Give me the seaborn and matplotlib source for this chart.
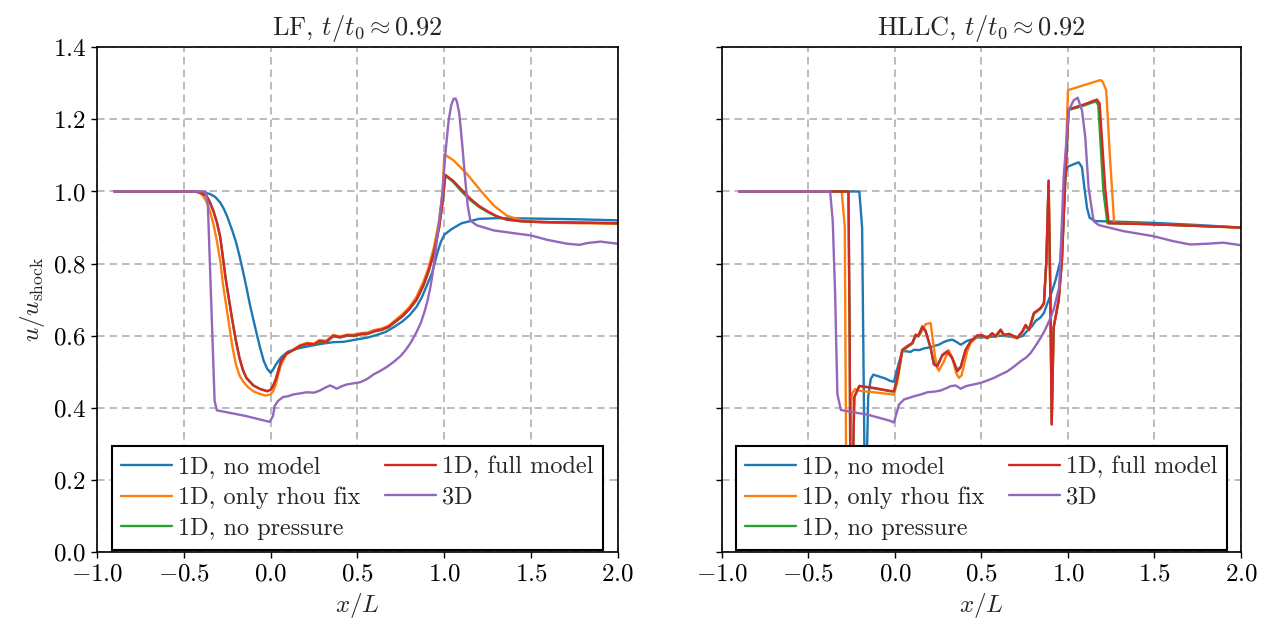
import numpy as np
import pandas as pd
import matplotlib
matplotlib.use("Agg")
import matplotlib.pyplot as plt
import seaborn as sns

# ---------------- data ----------------
series_names = ["1D, no model", "1D, only rhou fix", "1D, no pressure", "1D, full model", "3D"]
titles = [r"LF, $t/t_0 \approx 0.92$", r"HLLC, $t/t_0 \approx 0.92$"]
xticks = [-1.0, -0.5, 0.0, 0.5, 1.0, 1.5, 2.0]
yticks = [0.0, 0.2, 0.4, 0.6, 0.8, 1.0, 1.2, 1.4]

# LF panel
lf_nomodel_x = [-0.9, -0.43, -0.39, -0.35, -0.32, -0.29, -0.27, -0.25, -0.22, -0.2, -0.18, -0.16, -0.14,
                -0.12, -0.1, -0.08, -0.06, -0.04, -0.02, 0.0, 0.015, 0.03, 0.06, 0.1,
                0.16, 0.23, 0.3, 0.36, 0.42, 0.5, 0.56, 0.61, 0.66, 0.71, 0.76, 0.8, 0.84, 0.87, 0.9, 0.93,
                0.96, 0.98, 1.0, 1.04, 1.1, 1.2, 1.3, 1.5, 1.75, 2.0]
lf_nomodel_u = [1.0, 1.0, 0.998, 0.993, 0.985, 0.969, 0.952, 0.93, 0.89, 0.86, 0.822, 0.78, 0.735,
                0.687, 0.645, 0.604, 0.565, 0.53, 0.508, 0.497, 0.507, 0.52, 0.54, 0.556,
                0.565, 0.572, 0.578, 0.582, 0.583, 0.59, 0.595, 0.602, 0.61, 0.624, 0.64, 0.657, 0.68, 0.706,
                0.74, 0.775, 0.83, 0.86, 0.88, 0.895, 0.912, 0.924, 0.926, 0.925, 0.923, 0.92]

lf_rhou_x = [-0.9, -0.44, -0.41, -0.39, -0.37, -0.35, -0.33, -0.31, -0.29, -0.275, -0.255, -0.237, -0.22,
             -0.2, -0.18, -0.16, -0.13, -0.1, -0.06, -0.03, 0.0, 0.015, 0.03, 0.045, 0.06,
             0.09, 0.13, 0.17, 0.21, 0.25, 0.28, 0.32, 0.36, 0.4, 0.44, 0.48, 0.52, 0.56, 0.6, 0.64, 0.68,
             0.72, 0.76, 0.8, 0.84, 0.88, 0.91, 0.94, 0.97, 0.99, 1.0, 1.054, 1.13, 1.208, 1.285, 1.36,
             1.458, 1.55, 2.0]
lf_rhou_u = [1.0, 1.0, 0.996, 0.988, 0.972, 0.946, 0.91, 0.863, 0.805, 0.743, 0.68, 0.622, 0.568,
             0.52, 0.49, 0.474, 0.457, 0.446, 0.438, 0.434, 0.437, 0.447, 0.465, 0.495, 0.52,
             0.548, 0.562, 0.574, 0.58, 0.578, 0.588, 0.586, 0.602, 0.598, 0.603, 0.603, 0.607, 0.609, 0.616,
             0.62, 0.628, 0.644, 0.66, 0.68, 0.708, 0.75, 0.79, 0.845, 0.92, 1.0, 1.103, 1.086, 1.049,
             1.003, 0.961, 0.933, 0.918, 0.914, 0.91]

lf_nopres_x = [-0.9, -0.43, -0.4, -0.37, -0.35, -0.33, -0.31, -0.29, -0.26, -0.24, -0.22, -0.2, -0.18,
               -0.16, -0.14, -0.1, -0.06, -0.02, 0.0, 0.015, 0.03, 0.045,
               0.06, 0.09, 0.13, 0.17, 0.21, 0.25, 0.28, 0.32, 0.36, 0.4, 0.44, 0.48, 0.52, 0.56, 0.6, 0.64,
               0.68, 0.72, 0.76, 0.8, 0.84, 0.88, 0.91, 0.94, 0.97, 0.99, 1.006, 1.05, 1.1, 1.15, 1.2,
               1.25, 1.3, 1.36, 1.45, 1.6, 2.0]
lf_nopres_u = [1.0, 1.0, 0.996, 0.988, 0.97, 0.946, 0.915, 0.872, 0.761, 0.7, 0.64, 0.585, 0.539,
               0.505, 0.483, 0.462, 0.452, 0.446, 0.45, 0.462, 0.48, 0.505,
               0.53, 0.55, 0.56, 0.571, 0.577, 0.575, 0.583, 0.582, 0.598, 0.595, 0.6, 0.599, 0.604, 0.605,
               0.612, 0.616, 0.624, 0.639, 0.654, 0.674, 0.699, 0.739, 0.779, 0.829, 0.9, 0.97, 1.044, 1.027,
               1.0, 0.976, 0.957, 0.943, 0.931, 0.922, 0.917, 0.915, 0.912]

lf_full_x = [-0.9, -0.43, -0.4, -0.37, -0.35, -0.33, -0.31, -0.29, -0.26, -0.24, -0.22, -0.2, -0.18,
             -0.16, -0.14, -0.1, -0.06, -0.02, 0.0, 0.015, 0.03, 0.045,
             0.06, 0.09, 0.13, 0.17, 0.21, 0.25, 0.28, 0.32, 0.36, 0.4, 0.44, 0.48, 0.52, 0.56, 0.6, 0.64,
             0.68, 0.72, 0.76, 0.8, 0.84, 0.88, 0.91, 0.94, 0.97, 0.99, 1.006, 1.05, 1.1, 1.15, 1.2,
             1.25, 1.3, 1.36, 1.45, 1.6, 2.0]
lf_full_u = [1.0, 1.0, 0.996, 0.988, 0.97, 0.946, 0.915, 0.872, 0.761, 0.7, 0.64, 0.585, 0.539,
             0.505, 0.483, 0.462, 0.452, 0.446, 0.45, 0.462, 0.48, 0.505,
             0.53, 0.55, 0.56, 0.572, 0.578, 0.576, 0.585, 0.583, 0.6, 0.596, 0.601, 0.6, 0.605, 0.606,
             0.613, 0.617, 0.625, 0.64, 0.655, 0.675, 0.7, 0.74, 0.78, 0.83, 0.9, 0.97, 1.046, 1.03,
             1.005, 0.98, 0.96, 0.945, 0.932, 0.922, 0.917, 0.915, 0.912]

lf_3d_x = [-0.9, -0.375, -0.362, -0.342, -0.323, -0.31, -0.15, -0.006, 0.013, 0.023, 0.042, 0.072, 0.1,
           0.13, 0.17, 0.207, 0.25, 0.284, 0.31, 0.342, 0.36, 0.381, 0.41, 0.44, 0.48, 0.516, 0.556, 0.594,
           0.63, 0.671, 0.71, 0.749, 0.78, 0.807, 0.84, 0.865, 0.885, 0.903, 0.92, 0.932, 0.952, 0.971,
           0.99, 1.006, 1.025, 1.04, 1.054, 1.065, 1.073, 1.085, 1.092, 1.105, 1.121, 1.135, 1.15, 1.188,
           1.285, 1.42, 1.5, 1.592, 1.708, 1.78, 1.823, 1.9, 2.0]
lf_3d_u = [1.0, 1.0, 0.965, 0.687, 0.419, 0.393, 0.378, 0.361, 0.377, 0.405, 0.419, 0.43, 0.432, 0.437,
           0.44, 0.443, 0.442, 0.448, 0.455, 0.462, 0.458, 0.453, 0.46, 0.465, 0.468, 0.471, 0.48, 0.493,
           0.502, 0.514, 0.528, 0.544, 0.562, 0.581, 0.61, 0.636, 0.665, 0.696, 0.735, 0.77, 0.844, 0.918,
           1.0, 1.105, 1.197, 1.24, 1.257, 1.258, 1.248, 1.22, 1.188, 1.12, 1.03, 0.96, 0.919, 0.906,
           0.892, 0.883, 0.878, 0.866, 0.855, 0.852, 0.857, 0.861, 0.855]

# HLLC panel
hl_nomodel_x = [-0.9, -0.206, -0.19, -0.175, -0.165, -0.155, -0.14, -0.125, -0.1, -0.06, -0.029, -0.006,
                0.02, 0.042, 0.062, 0.09, 0.11, 0.14, 0.17, 0.206, 0.23, 0.254, 0.28, 0.302, 0.331, 0.355,
                0.38, 0.418, 0.45, 0.476, 0.534, 0.58, 0.611, 0.66, 0.707, 0.74, 0.765, 0.79, 0.813, 0.84,
                0.861, 0.879, 0.9, 0.927, 0.956, 0.985, 1.0, 1.03, 1.062, 1.081, 1.095, 1.11, 1.125, 1.158,
                1.3, 1.494, 1.75, 2.0]
hl_nomodel_u = [1.0, 1.0, 0.9, 0.2, 0.2, 0.43, 0.48, 0.492, 0.488, 0.482, 0.475, 0.472,
                0.52, 0.557, 0.557, 0.555, 0.561, 0.56, 0.565, 0.568, 0.572, 0.575, 0.582, 0.586, 0.589, 0.583,
                0.575, 0.586, 0.59, 0.595, 0.596, 0.598, 0.6, 0.598, 0.594, 0.6, 0.614, 0.625, 0.641, 0.65,
                0.663, 0.687, 0.713, 0.752, 0.808, 1.049, 1.069, 1.075, 1.081, 1.067, 1.01, 0.955, 0.927, 0.918,
                0.916, 0.913, 0.907, 0.9]

hl_rhou_x = [-0.9, -0.308, -0.29, -0.282, -0.265, -0.25, -0.231, -0.202, -0.12, -0.029, -0.006, 0.013,
             0.042, 0.071, 0.1, 0.119, 0.14, 0.158, 0.177, 0.206, 0.225, 0.24, 0.254, 0.283, 0.31, 0.33,
             0.355, 0.37, 0.385, 0.418, 0.437, 0.476, 0.505, 0.534, 0.562, 0.59, 0.611, 0.63, 0.659, 0.707,
             0.736, 0.755, 0.775, 0.803, 0.842, 0.861, 0.875, 0.888, 0.898, 0.906, 0.917, 0.946, 0.965,
             0.985, 1.0, 1.187, 1.2, 1.221, 1.244, 1.267, 1.5, 2.0]
hl_rhou_u = [1.0, 1.0, 0.9, 0.2, 0.2, 0.438, 0.452, 0.447, 0.443, 0.438, 0.436, 0.47,
             0.555, 0.568, 0.578, 0.598, 0.6, 0.615, 0.632, 0.635, 0.565, 0.515, 0.503, 0.529, 0.56, 0.54,
             0.495, 0.483, 0.49, 0.557, 0.58, 0.598, 0.6, 0.592, 0.605, 0.598, 0.614, 0.6, 0.603, 0.592,
             0.61, 0.628, 0.615, 0.66, 0.675, 0.69, 0.8, 1.02, 0.72, 0.36, 0.62, 0.7, 0.81,
             1.05, 1.281, 1.309, 1.305, 1.281, 1.086, 0.913, 0.909, 0.9]

hl_nopres_x = [-0.9, -0.269, -0.262, -0.258, -0.245, -0.235, -0.206, -0.12, -0.029, -0.006, 0.013, 0.042,
               0.071, 0.1, 0.119, 0.135, 0.158, 0.177, 0.206, 0.225, 0.245, 0.274, 0.302, 0.331, 0.36, 0.38,
               0.408, 0.437, 0.476, 0.505, 0.534, 0.562, 0.58, 0.611, 0.63, 0.659, 0.707, 0.736, 0.755,
               0.775, 0.803, 0.842, 0.861, 0.875, 0.888, 0.898, 0.906, 0.917, 0.946, 0.965, 0.985, 1.004,
               1.09, 1.16, 1.175, 1.205, 1.228, 1.494, 2.0]
hl_nopres_u = [1.0, 1.0, 0.6, 0.2, 0.2, 0.43, 0.46, 0.454, 0.446, 0.445, 0.48, 0.558,
               0.57, 0.578, 0.6, 0.598, 0.622, 0.612, 0.566, 0.522, 0.518, 0.545, 0.555, 0.538, 0.505, 0.514,
               0.56, 0.583, 0.6, 0.6, 0.594, 0.606, 0.598, 0.616, 0.602, 0.605, 0.594, 0.611, 0.628,
               0.616, 0.662, 0.676, 0.689, 0.808, 1.03, 0.715, 0.354, 0.623, 0.697, 0.808, 1.04, 1.226,
               1.238, 1.25, 1.24, 1.0, 0.912, 0.909, 0.9]

hl_full_x = [-0.9, -0.269, -0.262, -0.258, -0.245, -0.235, -0.206, -0.12, -0.029, -0.006, 0.013, 0.042,
             0.071, 0.1, 0.119, 0.135, 0.158, 0.177, 0.206, 0.225, 0.245, 0.274, 0.302, 0.331, 0.36, 0.38,
             0.408, 0.437, 0.476, 0.505, 0.534, 0.562, 0.58, 0.611, 0.63, 0.659, 0.707, 0.736, 0.755,
             0.775, 0.803, 0.842, 0.861, 0.875, 0.888, 0.898, 0.906, 0.917, 0.946, 0.965, 0.985, 1.004,
             1.09, 1.167, 1.183, 1.215, 1.235, 1.494, 2.0]
hl_full_u = [1.0, 1.0, 0.6, 0.2, 0.2, 0.43, 0.461, 0.455, 0.447, 0.446, 0.483, 0.561,
             0.571, 0.58, 0.603, 0.6, 0.626, 0.614, 0.566, 0.52, 0.515, 0.547, 0.557, 0.538, 0.501, 0.512,
             0.561, 0.584, 0.601, 0.601, 0.594, 0.607, 0.598, 0.617, 0.602, 0.605, 0.594, 0.612, 0.63,
             0.617, 0.663, 0.677, 0.69, 0.808, 1.03, 0.715, 0.354, 0.623, 0.697, 0.808, 1.04, 1.228,
             1.241, 1.255, 1.244, 1.011, 0.912, 0.909, 0.9]

hl_3d_x = [-0.9, -0.375, -0.36, -0.346, -0.333, -0.313, -0.15, -0.029, -0.006, 0.023, 0.052, 0.11, 0.15,
           0.187, 0.23, 0.264, 0.3, 0.322, 0.35, 0.38, 0.41, 0.437, 0.495, 0.53, 0.572, 0.61, 0.649, 0.69,
           0.726, 0.76, 0.784, 0.81, 0.842, 0.861, 0.881, 0.9, 0.919, 0.948, 0.956, 0.975, 1.004, 1.033,
           1.056, 1.081, 1.1, 1.119, 1.148, 1.177, 1.321, 1.494, 1.61, 1.706, 1.8, 1.898, 2.0]
hl_3d_u = [1.0, 1.0, 0.92, 0.716, 0.438, 0.394, 0.38, 0.364, 0.359, 0.409, 0.423, 0.432, 0.437,
           0.443, 0.445, 0.448, 0.455, 0.46, 0.462, 0.453, 0.46, 0.463, 0.469, 0.475, 0.483, 0.492, 0.501,
           0.515, 0.529, 0.54, 0.552, 0.57, 0.594, 0.61, 0.63, 0.65, 0.676, 0.732, 0.806, 1.039, 1.225,
           1.253, 1.26, 1.225, 1.151, 1.011, 0.918, 0.907, 0.89, 0.876, 0.862, 0.853, 0.855, 0.858, 0.851]

panels = [
    [(lf_nomodel_x, lf_nomodel_u), (lf_rhou_x, lf_rhou_u), (lf_nopres_x, lf_nopres_u),
     (lf_full_x, lf_full_u), (lf_3d_x, lf_3d_u)],
    [(hl_nomodel_x, hl_nomodel_u), (hl_rhou_x, hl_rhou_u), (hl_nopres_x, hl_nopres_u),
     (hl_full_x, hl_full_u), (hl_3d_x, hl_3d_u)],
]

# ---------------- style ----------------
FS = 18
TFS = 19
LFS = 17.5
sns.set_style("ticks")
plt.rcParams.update({
    "font.family": "serif",
    "font.serif": ["cmr10"],
    "mathtext.fontset": "cm",
    "axes.formatter.use_mathtext": True,
    "font.size": FS,
    "axes.edgecolor": "black",
    "axes.linewidth": 1.2,
    "xtick.color": "black",
    "ytick.color": "black",
    "xtick.major.size": 4.5,
    "ytick.major.size": 4.5,
    "xtick.major.width": 1.0,
    "ytick.major.width": 1.0,
})

palette = sns.color_palette("tab10", 5)

fig = plt.figure(figsize=(12.72, 6.27), dpi=100)
ax_l = fig.add_axes([0.0763, 0.1196, 0.4095, 0.805])
ax_r = fig.add_axes([0.5676, 0.1196, 0.4080, 0.805], sharey=ax_l)

for ax, title, series in zip([ax_l, ax_r], titles, panels):
    frames = []
    for name, (xs, us) in zip(series_names, series):
        frames.append(pd.DataFrame({"x": xs, "u": us, "run": name}))
    df = pd.concat(frames, ignore_index=True)
    sns.lineplot(data=df, x="x", y="u", hue="run", hue_order=series_names, palette=palette,
                 sort=False, estimator=None, linewidth=1.7, ax=ax, legend=True)
    ax.set_xlim(-1.0, 2.0)
    ax.set_ylim(0.0, 1.4)
    ax.set_xticks(xticks)
    ax.set_yticks(yticks)
    ax.xaxis.set_major_formatter(matplotlib.ticker.FormatStrFormatter("$%.1f$"))
    ax.yaxis.set_major_formatter(matplotlib.ticker.FormatStrFormatter("$%.1f$"))
    ax.grid(True, color="#b0b0b0", linewidth=1.2, linestyle=(0, (4.5, 3)))
    ax.set_axisbelow(True)
    ax.set_title(title, fontsize=TFS, pad=9)
    ax.set_xlabel(r"$x/L$", fontsize=FS, labelpad=4)
    ax.tick_params(labelsize=FS)
    for sp in ax.spines.values():
        sp.set_visible(True)
    handles, labels = ax.get_legend_handles_labels()
    leg = ax.legend(handles, labels, loc="lower center", ncol=2, fontsize=LFS, frameon=True,
                    fancybox=False, framealpha=1.0, edgecolor="black", borderaxespad=0.1,
                    handlelength=2.1, columnspacing=1.0, handletextpad=0.25, labelspacing=0.35,
                    borderpad=0.4)
    leg.get_frame().set_linewidth(1.5)

ax_l.set_ylabel(r"$u/u_\mathrm{shock}$", fontsize=FS, labelpad=4)
ax_r.set_ylabel("")
ax_r.tick_params(labelleft=False)

fig.savefig("out.png", dpi=100)
